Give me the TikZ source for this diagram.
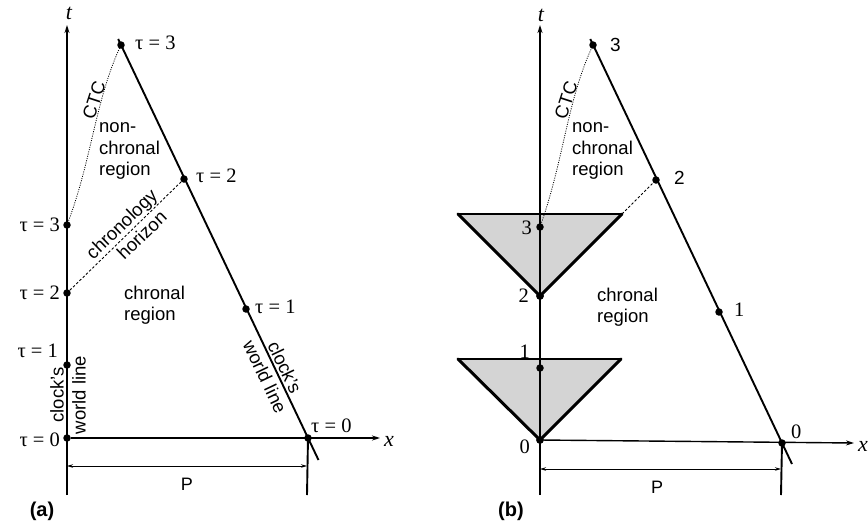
\documentclass[tikz,border=0pt]{standalone}
\usepackage{fontspec}
\setmainfont{Liberation Serif}
\setsansfont{Liberation Sans}
\usetikzlibrary{arrows.meta}
\begin{document}
\begin{tikzpicture}[x=1pt,y=-1pt,
  dot/.style={circle,fill=black,inner sep=0pt,minimum size=7.5pt},
  lbl/.style={font=\fontsize{20.5}{24}\selectfont,inner sep=1pt},
  slbl/.style={font=\sffamily\fontsize{19}{22}\selectfont,inner sep=1pt},
  txt/.style={font=\sffamily\fontsize{18.5}{21.5}\selectfont,align=left,inner sep=0pt},
  rtxt/.style={font=\sffamily\fontsize{18.5}{22}\selectfont,align=center,inner sep=0pt},
  plbl/.style={font=\sffamily\fontsize{18}{21}\selectfont},
  axlbl/.style={font=\itshape\fontsize{22}{24}\selectfont,inner sep=0pt},
  taxis/.style={line width=2.2pt,-{Stealth[length=8pt,width=5pt]}},
  xaxis/.style={line width=1.4pt,-{Stealth[length=8pt,width=5pt]}},
  world/.style={line width=1.9pt},
  dimline/.style={line width=0.9pt,{Stealth[length=6pt,width=3.5pt]}-{Stealth[length=6pt,width=3.5pt]}},
  tick/.style={line width=1.9pt},
  horizon/.style={line width=0.9pt,dash pattern=on 2.5pt off 2pt},
  ctc/.style={line width=0.8pt,dash pattern=on 1pt off 1.3pt},
  cone/.style={fill=black!17,draw=none},
  conetop/.style={line width=2.2pt,line cap=round},
  coneside/.style={line width=3pt,line cap=round,line join=round},
  panel/.style={font=\sffamily\bfseries\fontsize{20}{24}\selectfont}
]
\useasboundingbox (0,0) rectangle (868,531);

% ================= panel (a) =================
\coordinate (aTb) at (67,495);
\coordinate (aTt) at (67,25);
\coordinate (aXe) at (380,438);
\coordinate (aWs) at (118.2,39);
\coordinate (aWe) at (318.5,460);
\coordinate (aRb) at (307,495);
\coordinate (aPl) at (67,466);
\coordinate (aPr) at (307,466);

\node[dot] (aL0) at (67,438) {};
\node[dot] (aL1) at (67,365) {};
\node[dot] (aL2) at (67,293) {};
\node[dot] (aL3) at (67,225) {};
\node[dot] (aR3) at (121,45) {};
\node[dot] (aR2) at (184,179) {};
\node[dot] (aR1) at (246,309) {};
\node[dot] (aR0) at (308,438) {};

\draw[taxis] (aTb) -- (aTt);
\draw[xaxis] (aL0) -- (aXe);
\draw[world] (aWs) -- (aWe);
\draw[tick] (aR0.center) -- (aRb);
\draw[dimline] (aPl) -- (aPr);
\draw[horizon] (aL2) -- (aR2);
\draw[ctc] (aL3.center) .. controls (92,160) and (95,100) .. (aR3.center);

\node[axlbl] (at) at (69,13) {t};
\node[axlbl] (ax) at (389,441) {x};

\node[lbl,anchor=west] (aR3l) at (134,43) {τ = 3};
\node[lbl,anchor=west] (aR2l) at (195,176) {τ = 2};
\node[lbl,anchor=west] (aR1l) at (254,307) {τ = 1};
\node[lbl,anchor=west] (aR0l) at (310,426) {τ = 0};
\node[lbl,anchor=east] (aL3l) at (61,225) {τ = 3};
\node[lbl,anchor=east] (aL2l) at (61,293) {τ = 2};
\node[lbl,anchor=east] (aL1l) at (59,351) {τ = 1};
\node[lbl,anchor=east] (aL0l) at (61,440) {τ = 0};

\node[txt,anchor=west] (aNC) at (99,151) {non-\\chronal\\region};
\node[txt,anchor=west] (aCR) at (124,305) {chronal\\region};
\node[rtxt,rotate=72] (aCTC) at (94,100) {CTC};
\node[rtxt,rotate=44] (aCH) at (129,232) {chronology\\\hspace*{14pt}horizon};
\node[rtxt,rotate=90] (aCW1) at (68,395) {clock's\\world line};
\node[rtxt,rotate=-64.5] (aCW2) at (275,372) {clock's\\world line};
\node[plbl] (aP) at (187,484) {P};
\node[panel] (aLab) at (42,511) {(a)};

% ================= panel (b) =================
\coordinate (bTb) at (540,495);
\coordinate (bTt) at (540,25);
\coordinate (bXe) at (854,443);
\coordinate (bWs) at (590.3,39);
\coordinate (bWe) at (792,464);
\coordinate (bRb) at (781,495);
\coordinate (bPl) at (540,469);
\coordinate (bPr) at (781,469);
\coordinate (bC1a) at (458,214);
\coordinate (bC1b) at (622,214);
\coordinate (bC2a) at (458,359);
\coordinate (bC2b) at (621,359);

\node[dot] (bL0) at (540,440) {};
\node[dot] (bL1) at (540,368) {};
\node[dot] (bL2) at (540,296) {};
\node[dot] (bL3) at (540,227) {};
\node[dot] (bR3) at (593,45) {};
\node[dot] (bR2) at (656,180) {};
\node[dot] (bR1) at (719,312) {};
\node[dot] (bR0) at (782,443) {};

\fill[cone] (bC1a) -- (bC1b) -- (bL2.center) -- cycle;
\fill[cone] (bC2a) -- (bC2b) -- (bL0.center) -- cycle;

\draw[taxis,line width=1.5pt] (bTb) -- (bTt);
\draw[xaxis] (bL0) -- (bXe);
\draw[world] (bWs) -- (bWe);
\draw[tick] (bR0.center) -- (bRb);
\draw[dimline] (bPl) -- (bPr);
\draw[horizon] (bC1b) -- (bR2);
\draw[ctc] (bL3.center) .. controls (564,160) and (567,100) .. (bR3.center);

\draw[conetop] (bC1a) -- (bC1b);
\draw[coneside] (bC1a) -- (bL2.center) -- (bC1b);
\draw[conetop] (bC2a) -- (bC2b);
\draw[coneside] (bC2a) -- (bL0.center) -- (bC2b);

\node[dot] at (bL3) {};
\node[dot] at (bL2) {};
\node[dot] at (bL1) {};
\node[dot] at (bL0) {};

\node[axlbl] (bt) at (541,15) {t};
\node[axlbl] (bx) at (863,446) {x};

\node[slbl,anchor=west] (bR3l) at (609,45) {3};
\node[slbl,anchor=west] (bR2l) at (673,178) {2};
\node[lbl,anchor=west] (bR1l) at (733,310) {1};
\node[lbl,anchor=west] (bR0l) at (790,432) {0};
\node[lbl,anchor=east] (bL3l) at (533,228) {3};
\node[lbl,anchor=east] (bL2l) at (530,296) {2};
\node[lbl,anchor=east] (bL1l) at (531,352) {1};
\node[lbl,anchor=east] (bL0l) at (531,447) {0};

\node[txt,anchor=west] (bNC) at (572,151) {non-\\chronal\\region};
\node[txt,anchor=west] (bCR) at (597,307) {chronal\\region};
\node[rtxt,rotate=72] (bCTC) at (566,100) {CTC};
\node[plbl] (bP) at (657,487) {P};
\node[panel] (bLab) at (511,511) {(b)};
\end{tikzpicture}
\end{document}
